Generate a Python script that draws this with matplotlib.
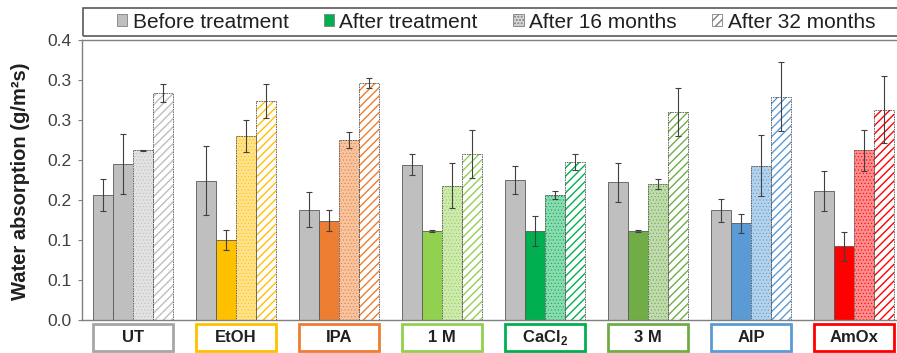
"""Water absorption before/after consolidation treatments, grouped bars."""
import matplotlib
import numpy as np

matplotlib.use('Agg')
import matplotlib.pyplot as plt
from matplotlib.colors import to_rgb
from matplotlib.patches import Patch, Rectangle
from matplotlib.transforms import blended_transform_factory

plt.rcParams['font.family'] = ['Liberation Sans', 'DejaVu Sans']
plt.rcParams['mathtext.fontset'] = 'custom'
plt.rcParams['mathtext.bf'] = 'Liberation Sans:bold'
plt.rcParams['mathtext.rm'] = 'Liberation Sans'

# data (g/m2s)
treatments = ['UT', 'EtOH', 'IPA', '1 M', r'CaCl$_\mathbf{2}$', '3 M', 'AlP', 'AmOx']
series = ['Before treatment', 'After treatment', 'After 16 months', 'After 32 months']

before = [0.156, 0.174, 0.138, 0.194, 0.175, 0.172, 0.137, 0.161]
before_err = [0.020, 0.043, 0.022, 0.013, 0.018, 0.024, 0.014, 0.025]
after = [0.195, 0.100, 0.124, 0.111, 0.111, 0.111, 0.121, 0.092]
after_err = [0.037, 0.012, 0.013, 0.001, 0.019, 0.001, 0.012, 0.018]
m16 = [0.212, 0.230, 0.225, 0.168, 0.156, 0.170, 0.193, 0.212]
m16_err = [0.001, 0.020, 0.010, 0.028, 0.005, 0.006, 0.038, 0.026]
m32 = [0.284, 0.274, 0.296, 0.208, 0.197, 0.260, 0.279, 0.263]
m32_err = [0.011, 0.021, 0.006, 0.030, 0.010, 0.030, 0.043, 0.042]

main_colors = ['#BFBFBF', '#FFC000', '#ED7D31', '#92D050', '#00B050', '#70AD47', '#5B9BD5', '#FF0000']
box_colors = ['#A6A6A6', '#FFC000', '#ED7D31', '#92D050', '#00B050', '#70AD47', '#5B9BD5', '#FF0000']
GRAY = '#BFBFBF'
EDGE = '#595959'
ERR = '#404040'


def tint(c, f=0.55):
    r, g, b = to_rgb(c)
    return (r + (1 - r) * f, g + (1 - g) * f, b + (1 - b) * f)


W_PX, H_PX = 897, 353
fig = plt.figure(figsize=(W_PX / 100, H_PX / 100), dpi=100)
ax = fig.add_axes([81.5 / W_PX, 33 / H_PX, 824 / W_PX, 280 / H_PX])

n = len(treatments)
x = np.arange(n)
w = 0.195
err_kw = dict(ecolor=ERR, elinewidth=0.8, capsize=2, capthick=0.8)

# before treatment: all gray
ax.bar(x - 1.5 * w, before, w, color=GRAY, edgecolor=EDGE, linewidth=0.6,
       yerr=before_err, error_kw=err_kw, zorder=2)

# after treatment: solid treatment colour
ax.bar(x - 0.5 * w, after, w, color=main_colors, edgecolor=EDGE, linewidth=0.6,
       yerr=after_err, error_kw=err_kw, zorder=2)

# after 16 months: light tint with dots
with plt.rc_context({'hatch.linewidth': 0.4}):
    for i in range(n):
        ax.bar(x[i] + 0.5 * w, m16[i], w, color=tint(main_colors[i]),
               edgecolor=main_colors[i], linewidth=0, hatch='.....', zorder=2)
ax.bar(x + 0.5 * w, m16, w, fill=False, edgecolor=EDGE, linewidth=0.6,
       linestyle=(0, (2, 1)), yerr=m16_err, error_kw=err_kw, zorder=3)

# after 32 months: white with diagonal stripes
with plt.rc_context({'hatch.linewidth': 1.0}):
    for i in range(n):
        ax.bar(x[i] + 1.5 * w, m32[i], w, color='white',
               edgecolor=main_colors[i], linewidth=0, hatch='////', zorder=2)
ax.bar(x + 1.5 * w, m32, w, fill=False, edgecolor=EDGE, linewidth=0.6,
       linestyle=(0, (2, 1)), yerr=m32_err, error_kw=err_kw, zorder=3)

ax.set_xlim(-0.5, n - 0.5)
ax.set_ylim(0, 0.35)
yt = np.arange(0, 0.351, 0.05)
ax.set_yticks(yt)
# Excel style rounding (half away from zero) -> 0.0, 0.1, 0.1, 0.2, ...
ax.set_yticklabels([f'{np.floor(v * 10 + 0.5 + 1e-9) / 10:.1f}' for v in yt],
                   fontsize=12.5, color='#404040')
ax.tick_params(axis='y', length=3, width=0.8, color='#808080', pad=4)
ax.set_xticks([])
for s in ['left', 'bottom', 'top']:
    ax.spines[s].set_color('#808080')
    ax.spines[s].set_linewidth(1.0)
ax.spines['right'].set_visible(False)

fig.text(21 / W_PX, 1 - 181 / H_PX, 'Water absorption (g/m²s)', rotation=90,
         ha='center', va='center', fontsize=14.5, fontweight='bold', color='#202020')

# category label boxes under the groups
trans = blended_transform_factory(ax.transData, ax.transAxes)
y0 = -(351 - 320) / 280
bh = (351 - 324) / 280
for i, lab in enumerate(treatments):
    ax.add_patch(Rectangle((x[i] - 0.385, y0), 0.77, bh, transform=trans,
                           fill=False, edgecolor=box_colors[i], linewidth=2,
                           clip_on=False))
    ax.text(x[i], y0 + bh / 2, lab, transform=trans, ha='center', va='center',
            fontsize=12, fontweight='bold', color='#202020')

# legend with its own frame across the top
fig.patches.append(Rectangle((83 / W_PX, 1 - 36 / H_PX), 820 / W_PX, 28 / H_PX,
                             transform=fig.transFigure, fill=False,
                             edgecolor=EDGE, linewidth=1.2))
handles = [
    Patch(facecolor=GRAY, edgecolor='#808080', linewidth=0.6),
    Patch(facecolor='#00B050', edgecolor='#808080', linewidth=0.6),
    Patch(facecolor='#D9D9D9', edgecolor='#808080', linewidth=0.6, hatch='.....'),
    Patch(facecolor='white', edgecolor='#808080', linewidth=0.6, hatch='////'),
]
fig.legend(handles, series, loc='center', bbox_to_anchor=(496 / W_PX, 1 - 22 / H_PX),
           ncol=4, frameon=False, fontsize=15, handlelength=0.5, handleheight=0.5,
           handletextpad=0.25, columnspacing=1.7, borderpad=0, labelcolor='#202020')

fig.savefig('out.png', dpi=100)
plt.close(fig)
